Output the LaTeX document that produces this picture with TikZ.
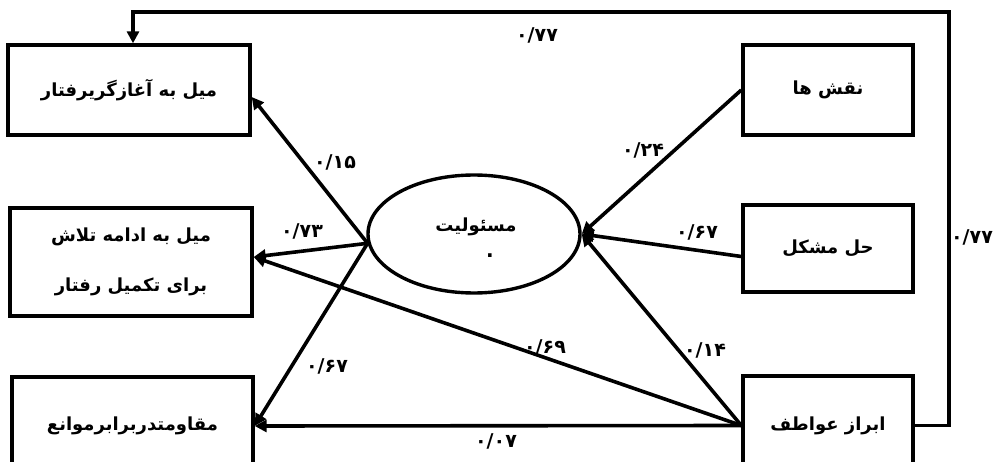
\documentclass[tikz,border=0pt]{standalone}
\usepackage{fontspec}
\usetikzlibrary{arrows.meta,shapes.geometric}
\newfontfamily\fa[Script=Arabic]{DejaVu Sans}
\TeXXeTstate=1

\begin{document}
\begin{tikzpicture}[x=1pt,y=-1pt,>={Triangle[length=12pt,width=12pt]},
  box/.style={draw,line width=3.4pt,inner sep=0pt,align=center,font=\fa\bfseries\fontsize{18}{20}\selectfont},
  link/.style={line width=3.6pt,->},
  coef/.style={inner sep=1pt,font=\fa\bfseries\fontsize{19}{21}\selectfont}]
 \useasboundingbox (0,0) rectangle (996,462);
 \clip (0,0) rectangle (996,462);
 % outcomes on the left
 \node[box,minimum width=242pt,minimum height=90pt] (init) at (129,90) {\beginR میل به آغازگریرفتار\endR};
 \node[box,minimum width=242pt,minimum height=108pt] (cont) at (131,262) {\beginR میل به ادامه تلاش\endR\\[30pt]\beginR برای تکمیل رفتار\endR};
 \node[box,minimum width=241pt,minimum height=98pt] (resist) at (132.5,426) {\beginR مقاومتدربرابرموانع\endR};
 % predictors on the right
 \node[box,minimum width=170pt,minimum height=90pt] (roles) at (828,90) {\beginR نقش ها\endR};
 \node[box,minimum width=170pt,minimum height=87pt] (solve) at (828,248.5) {\beginR حل مشکل\endR};
 \node[box,minimum width=170pt,minimum height=99pt] (emot) at (828,425.5) {\beginR ابراز عواطف\endR};
 % mediator
 \node[draw,ellipse,line width=3.4pt,minimum width=212pt,minimum height=118pt,inner sep=0pt] (resp) at (474,234) {};
 \node[font=\fa\bfseries\fontsize{18}{20}\selectfont] (resptxt) at (476,227) {\beginR مسئولیت\endR};
 \node[font=\fa\bfseries\fontsize{20}{22}\selectfont] (respdot) at (490,256) {.};
 % paths
 \draw[link] (roles.west) -- (resp.east);
 \draw[link] ([yshift=-8pt]solve.west) -- (resp.east);
 \draw[link] (emot.west) -- (resp.east);
 \draw[link] (resp.185) -- ([yshift=-7pt]init.east);
 \draw[link] (resp.185) -- ([yshift=5pt]cont.east);
 \draw[link] (resp.185) -- (resist.east);
 \draw[link] (emot.west) -- ([yshift=5pt]cont.east);
 \draw[link] (emot.west) -- (resist.east);
 \coordinate (fbr) at (949,12);
 \coordinate (fbl) at (133,12);
 \draw[link] (emot.east) -| (fbr) -- (fbl) -- (fbl |- init.north);
 % coefficients
 \node[coef] (c15) at (335,162) {۰/۱۵};
 \node[coef] (c73) at (302,231) {۰/۷۳};
 \node[coef] (c67a) at (327,366) {۰/۶۷};
 \node[coef] (c69) at (545,347) {۰/۶۹};
 \node[coef] (c14) at (705,350) {۰/۱۴};
 \node[coef] (c07) at (496,441) {۰/۰۷};
 \node[coef] (c24) at (643,150) {۰/۲۴};
 \node[coef] (c67b) at (697,232) {۰/۶۷};
 \node[coef] (c77a) at (537,35) {۰/۷۷};
 \node[coef] (c77b) at (972,237) {۰/۷۷};
\end{tikzpicture}
\end{document}
